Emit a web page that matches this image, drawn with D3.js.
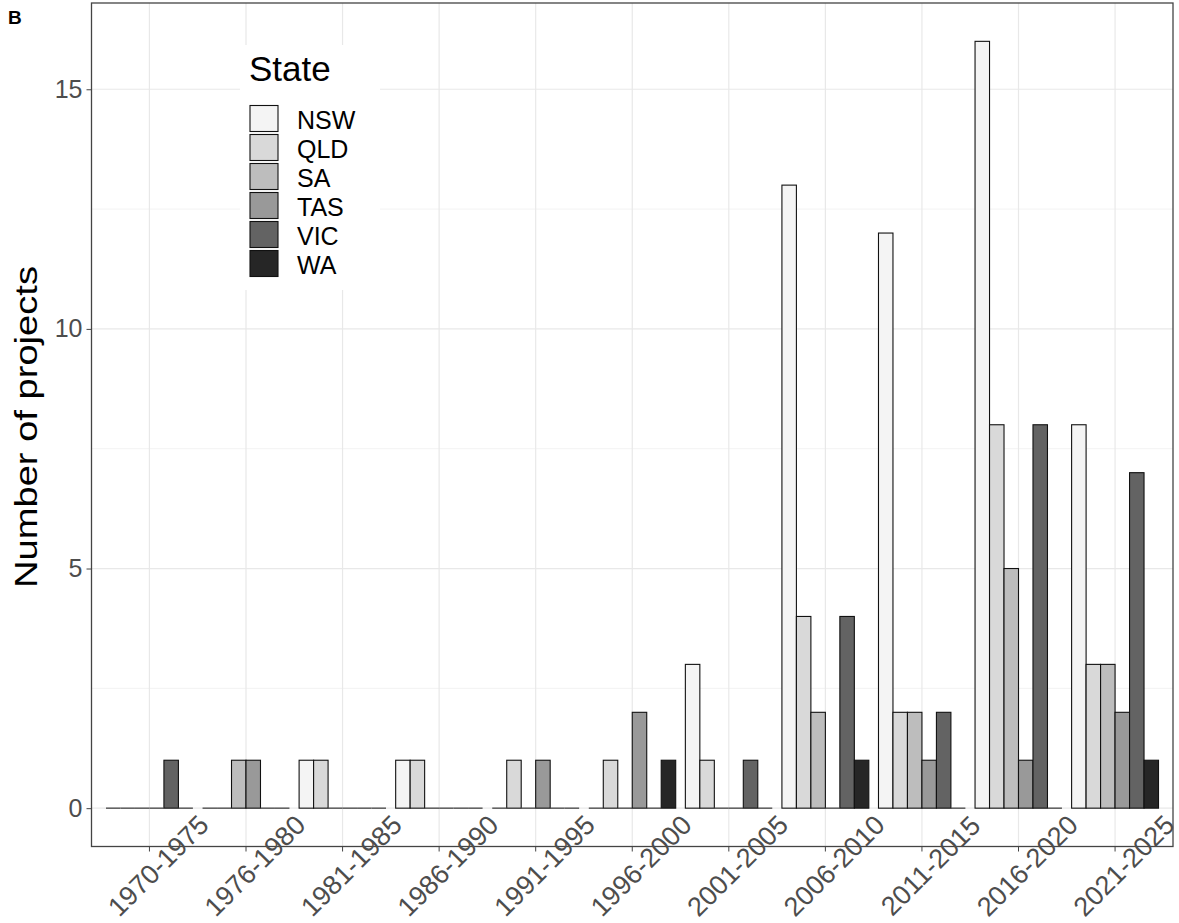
<!DOCTYPE html>
<html>
<head>
<meta charset="utf-8">
<script src="https://cdn.jsdelivr.net/npm/d3@7"></script>
<style>
  html, body { margin: 0; padding: 0; background: #fff; }
  svg { display: block; font-family: "Liberation Sans", Arial, sans-serif; }
</style>
</head>
<body>
<svg id="chart" width="1179" height="923"></svg>
<script>
const periods = ["1970-1975","1976-1980","1981-1985","1986-1990","1991-1995","1996-2000","2001-2005","2006-2010","2011-2015","2016-2020","2021-2025"];
const states = ["NSW","QLD","SA","TAS","VIC","WA"];
const NSW = [0,0,1,1,0,0,3,13,12,16,8];
const QLD = [0,0,1,1,1,1,1,4,2,8,3];
const SA  = [0,1,0,0,0,0,0,2,2,5,3];
const TAS = [0,1,0,0,1,2,0,0,1,1,2];
const VIC = [1,0,0,0,0,0,1,4,2,8,7];
const WA  = [0,0,0,0,0,1,0,1,0,0,1];
const fills = ["#f4f4f4","#d9d9d9","#bdbdbd","#999999","#636363","#262626"];
const yTicks = [0,5,10,15];
const yMinor = [2.5,7.5,12.5];

const seriesByState = {NSW, QLD, SA, TAS, VIC, WA};
const rows = [];
periods.forEach((p,i) => states.forEach(s => rows.push({period:p, state:s, value:seriesByState[s][i]})));

const svg = d3.select("#chart");
const L = 91.5, R = 1173, T = 3, B = 846.5;

const x = d3.scaleBand().domain(periods).range([L, R]).paddingInner(0.1).paddingOuter(0.15);
const xs = d3.scaleBand().domain(states).range([0, x.bandwidth()]).padding(0);
const y = d3.scaleLinear().domain([-0.8, 16.8]).range([B, T]);
const color = d3.scaleOrdinal().domain(states).range(fills);

// minor grid
svg.append("g").selectAll("line").data(yMinor).join("line")
  .attr("x1", L).attr("x2", R).attr("y1", d => y(d)).attr("y2", d => y(d))
  .attr("stroke", "#f3f3f3").attr("stroke-width", 1);
// major grid
svg.append("g").selectAll("line").data(yTicks).join("line")
  .attr("x1", L).attr("x2", R).attr("y1", d => y(d)).attr("y2", d => y(d))
  .attr("stroke", "#e8e8e8").attr("stroke-width", 1.2);
svg.append("g").selectAll("line").data(periods).join("line")
  .attr("y1", T).attr("y2", B)
  .attr("x1", d => x(d) + x.bandwidth()/2).attr("x2", d => x(d) + x.bandwidth()/2)
  .attr("stroke", "#e8e8e8").attr("stroke-width", 1.2);

// bars
const gBars = svg.append("g");
gBars.selectAll("rect").data(rows.filter(r => r.value > 0)).join("rect")
  .attr("x", d => x(d.period) + xs(d.state))
  .attr("width", xs.bandwidth())
  .attr("y", d => y(d.value))
  .attr("height", d => y(0) - y(d.value))
  .attr("fill", d => color(d.state))
  .attr("stroke", "#111").attr("stroke-width", 1.1);
gBars.selectAll("line").data(rows.filter(r => r.value === 0)).join("line")
  .attr("x1", d => x(d.period) + xs(d.state))
  .attr("x2", d => x(d.period) + xs(d.state) + xs.bandwidth())
  .attr("y1", y(0)).attr("y2", y(0))
  .attr("stroke", "#444").attr("stroke-width", 1.3);

// panel border
svg.append("rect").attr("x", L).attr("y", T).attr("width", R - L).attr("height", B - T)
  .attr("fill", "none").attr("stroke", "#444").attr("stroke-width", 1.3);

// y axis
const yAxis = svg.append("g").attr("transform", `translate(${L},0)`)
  .call(d3.axisLeft(y).tickValues(yTicks).tickSize(5).tickPadding(4).tickFormat(d3.format("d")));
yAxis.select(".domain").remove();
yAxis.selectAll(".tick line").attr("stroke", "#444");
yAxis.selectAll(".tick text").attr("fill", "#4d4d4d").attr("font-size", 25)
  .attr("font-family", "Liberation Sans, Arial, sans-serif");

// x axis
const xAxis = svg.append("g").attr("transform", `translate(0,${B})`)
  .call(d3.axisBottom(x).tickSize(5).tickFormat(""));
xAxis.select(".domain").remove();
xAxis.selectAll(".tick line").attr("stroke", "#444");
svg.append("g").selectAll("text").data(periods).join("text")
  .attr("transform", d => `translate(${x(d) + x.bandwidth()/2 + 9},${866}) rotate(-45)`)
  .attr("text-anchor", "middle").attr("dominant-baseline", "central")
  .attr("font-size", 27).attr("fill", "#4d4d4d").text(d => d);

// y title
svg.append("text")
  .attr("transform", `translate(${37},${427}) rotate(-90)`)
  .attr("text-anchor", "middle")
  .attr("font-size", 31).attr("fill", "#000")
  .attr("textLength", 322).attr("lengthAdjust", "spacingAndGlyphs")
  .text("Number of projects");

// panel tag
svg.append("text").attr("x", 8).attr("y", 24).attr("font-size", 19).attr("font-weight", "bold")
  .attr("fill", "#000").text("B");

// legend
const lg = svg.append("g");
lg.append("rect").attr("x", 240).attr("y", 45).attr("width", 140).attr("height", 245).attr("fill", "#fff");
lg.append("text").attr("x", 249).attr("y", 81).attr("font-size", 35).attr("fill", "#000").text("State");
const keyH = 29, key0 = 104;
lg.selectAll("rect.keyin").data(states).join("rect").attr("class", "keyin")
  .attr("x", 250).attr("y", (d,i) => key0 + i*keyH + 1.5).attr("width", 28).attr("height", keyH - 3)
  .attr("fill", d => color(d)).attr("stroke", "#111").attr("stroke-width", 1.1);
lg.selectAll("text.lab").data(states).join("text").attr("class", "lab")
  .attr("x", 297).attr("y", (d,i) => key0 + i*keyH + keyH/2 + 1).attr("dominant-baseline", "central")
  .attr("font-size", 25).attr("fill", "#000").text(d => d);
</script>
</body>
</html>
